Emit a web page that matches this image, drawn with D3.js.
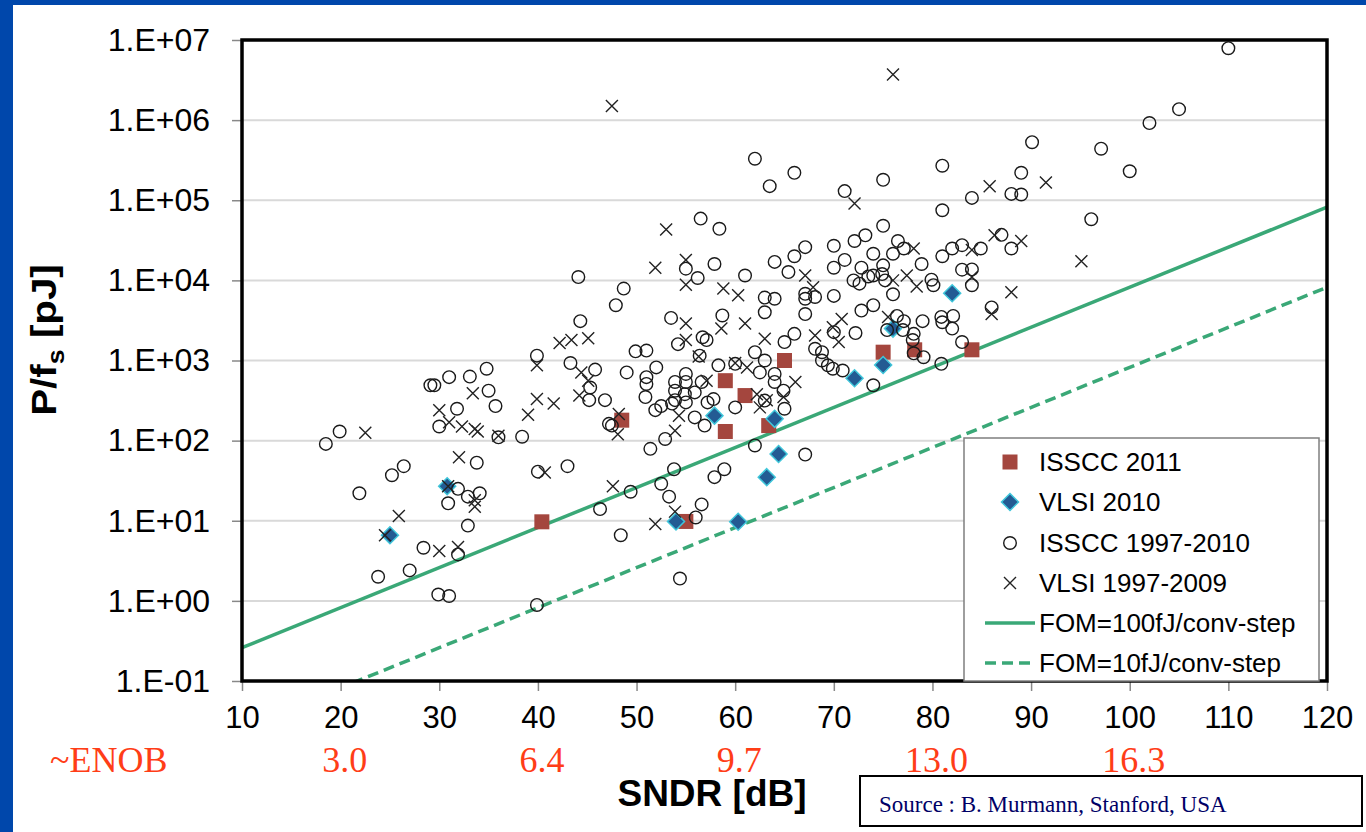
<!DOCTYPE html>
<html>
<head>
<meta charset="utf-8">
<script src="https://cdn.jsdelivr.net/npm/d3@7"></script>
<style>
  body { margin: 0; background: #fff; }
  text { font-family: "Liberation Sans", Arial, sans-serif; }
</style>
</head>
<body>
<svg id="chart"></svg>
<script>
// ---- data: [SNDR dB, P/fs pJ] ----
var isscc2011 = [[40.4,9.7],[48.5,180],[55.0,9.8],[59.0,560],[59.0,130],[61.0,365],[63.4,154],[65.0,1000],
  [75.0,1270],[78.2,1360],[84.0,1360]];

var vlsi2010 = [[25.0,6.6],[30.8,27],[54.0,9.8],[57.9,205],[60.3,9.7],[63.2,35],[64.4,68],[64.0,187],
  [72.1,600],[75.0,880],[76.0,2500],[82.0,6900]];

var isscc9710 = [
  [18.5,91],[19.9,130],[21.9,22],[25.2,37],[26.4,48],[23.8,2.0],[27.0,2.4],[28.4,4.6],[29.9,1.2],[31.0,1.15],
  [29.1,490],[29.5,490],[31.0,620],[33.1,630],[34.8,790],[35.0,420],[31.8,250],[30.0,150],[35.7,270],[36.0,110],
  [38.4,112],[33.8,53],[31.9,25],[32.9,20],[34.1,22],[30.9,16.5],[32.9,8.7],[31.9,3.8],[39.9,1150],[40.0,41],[39.9,0.89],
  [56.5,5.9e4],[58.4,4.4e4],[44.1,1.1e4],[48.7,7900],[47.9,4900],[44.3,3100],[57.9,1.6e4],[55.0,1.4e4],[56.2,1.07e4],
  [61.0,1.15e4],[64.0,1.7e4],[65.4,1.27e4],[66.0,2.0e4],[63.0,6100],[64.0,5900],[63.0,4000],[58.7,3650],[53.5,3400],
  [43.3,930],[45.8,770],[45.3,460],[45.2,320],[46.8,320],[49.0,710],[49.9,1300],[51.0,1330],[52.0,820],[51.0,620],[51.0,510],
  [50.9,350],[51.9,240],[52.5,270],[54.2,1600],[56.7,1950],[57.1,1800],[56.4,1150],[55.0,680],[55.0,540],[53.9,540],
  [53.9,420],[54.9,380],[55.9,400],[56.6,540],[53.9,320],[55.0,300],[53.6,290],[57.2,300],[57.8,330],[55.9,195],
  [56.9,154],[58.3,870],[60.0,910],[62.0,1270],[63.0,1000],[62.5,710],[64.0,680],[64.0,540],[64.9,420],[65.0,250],
  [63.0,316],[60.0,260],[65.0,1700],[66.0,2150],[47.5,154],[47.2,162],[52.9,105],[51.4,79],[43.0,48],[53.8,44],
  [57.9,35],[58.9,44],[62.0,87],[52.5,29],[49.4,23],[46.3,14],[53.3,20],[56.6,16],[56.0,11],[48.4,6.6],[54.4,1.9],
  [62.0,3.3e5],[63.5,1.5e5],[66.0,2.2e5],
  [81.0,2.7e5],[97.1,4.4e5],[75.0,1.8e5],[71.1,1.3e5],[84.0,1.07e5],[88.0,1.2e5],[89.0,1.18e5],[89.0,2.2e5],[81.0,7.5e4],[96.1,5.8e4],
  [75.0,4.8e4],[73.2,3.65e4],[72.1,3.1e4],[67.1,2.6e4],[70.0,2.7e4],[76.5,3.1e4],[77.1,2.5e4],[74.0,2.15e4],[76.0,2.15e4],[71.1,1.8e4],
  [70.0,1.44e4],[72.8,1.44e4],[78.9,1.6e4],[81.0,2.0e4],[82.0,2.5e4],[83.0,2.75e4],[84.9,2.5e4],[87.0,3.7e4],[88.0,2.5e4],[83.0,1.36e4],
  [84.0,1.37e4],[84.0,8700],[75.0,1.54e4],[72.0,1.0e4],[72.6,9100],[73.5,1.12e4],[74.0,1.15e4],[74.9,1.2e4],[75.2,1.0e4],[79.9,1.02e4],
  [80.1,8700],[67.1,6800],[67.1,5900],[68.1,6200],[67.1,3800],[70.0,6400],[76.0,6700],[74.0,4900],[72.8,4200],[72.2,2200],
  [70.0,2260],[76.4,3600],[77.1,3100],[75.4,2400],[77.0,2400],[78.1,2150],[79.0,3100],[78.0,1800],[80.9,3500],[81.0,3000],
  [82.1,3600],[82.0,2500],[86.0,4600],[83.0,1700],[68.1,1400],[68.8,1270],[68.8,1000],[69.4,870],[69.9,790],[70.9,750],
  [78.1,1230],[79.1,1100],[80.9,910],[74.0,490],[67.1,67],
  [110.0,7.9e6],[105.0,1.37e6],[102.0,9.2e5],[100.0,2.3e5],[90.1,5.3e5]
];

var vlsi9709 = [
  [22.5,125],[30.0,240],[31.0,170],[32.3,150],[33.4,390],[33.6,140],[33.9,130],[36.0,115],[39.0,210],[39.9,870],
  [39.9,330],[32.0,62],[30.9,27],[33.6,18],[33.6,15],[25.9,11.5],[24.5,6.6],[30.0,4.2],[31.9,4.7],
  [53.0,4.3e4],[51.9,1.44e4],[55.0,1.8e4],[55.0,8800],[58.8,7900],[60.3,6500],[55.0,2900],[58.6,2500],[61.0,2900],
  [42.2,1650],[43.4,1800],[45.1,1900],[44.4,710],[45.1,560],[44.2,365],[41.6,290],[55.0,1800],[56.3,1120],[57.1,560],
  [60.0,930],[61.2,820],[63.0,1870],[66.1,540],[62.2,380],[62.5,260],[63.2,320],[64.9,350],[48.2,215],[48.1,120],
  [53.9,133],[54.3,205],[40.7,40],[47.6,27],[53.9,13],[51.9,9.1],
  [72.1,9.1e4],[85.8,1.5e5],[91.5,1.66e5],[86.3,3.65e4],[89.0,3.1e4],[95.1,1.73e4],[78.1,2.5e4],[84.0,2.4e4],[84.0,1.1e4],
  [67.1,1.15e4],[67.9,8200],[76.0,1.0e4],[77.4,1.15e4],[78.4,8400],[88.0,7100],[86.0,3800],[75.5,3500],[70.8,3300],
  [69.9,2600],[68.1,2050],[70.5,1700],[47.5,1.5e6],[76.0,3.7e6]
];

// FOM reference lines (end points at SNDR 10 and 120)
var fomSndr = [10, 120];
var fom100 = [0.26, 8.2e4];
var fom10 = [0.026, 8.2e3];

var xTicks = [10,20,30,40,50,60,70,80,90,100,110,120];
var yTicks = [1e-1,1e0,1e1,1e2,1e3,1e4,1e5,1e6,1e7];
var yTickLabels = ["1.E-01","1.E+00","1.E+01","1.E+02","1.E+03","1.E+04","1.E+05","1.E+06","1.E+07"];
var enobTicks = [20,40,60,80,100];
var enobLabels = ["3.0","6.4","9.7","13.0","16.3"];

var legendNames = ["ISSCC 2011","VLSI 2010","ISSCC 1997-2010","VLSI 1997-2009","FOM=100fJ/conv-step","FOM=10fJ/conv-step"];

var green = "#3aa877";
var red = "#a4463e";
var navy = "#235b93";
var cyan = "#3fc6da";
var serif = "'Liberation Serif', 'Times New Roman', serif";

var svg = d3.select("#chart")
    .attr("width", 1366)
    .attr("height", 832);

svg.append("rect").attr("width", 1366).attr("height", 832).attr("fill", "#fff");
// slide frame
svg.append("rect").attr("x", 0).attr("y", 0).attr("width", 13).attr("height", 832).attr("fill", "#0047ab");
svg.append("rect").attr("x", 0).attr("y", 0).attr("width", 1366).attr("height", 5).attr("fill", "#0047ab");

var x = d3.scaleLinear().domain([10, 120]).range([242, 1327]);
var y = d3.scaleLog().domain([0.1, 1e7]).range([681, 40]);

svg.append("clipPath").attr("id", "plotClip")
    .append("rect")
    .attr("x", 242).attr("y", 40).attr("width", 1085).attr("height", 641);

// grid
svg.append("g").selectAll("line")
    .data(yTicks)
    .enter().append("line")
    .attr("x1", 242).attr("x2", 1327)
    .attr("y1", d => y(d)).attr("y2", d => y(d))
    .attr("stroke", "#d9d9d9")
    .attr("stroke-width", 2);

// axes
var yAxis = svg.append("g")
    .attr("transform", "translate(242,0)")
    .call(d3.axisLeft(y).tickValues(yTicks).tickFormat((d, i) => yTickLabels[i]).tickSize(10).tickPadding(22));
yAxis.select(".domain").remove();
yAxis.selectAll("line").attr("stroke", "#888").attr("stroke-width", 1.5);
yAxis.selectAll("text").attr("font-size", 32).attr("fill", "#000");

var xAxis = svg.append("g")
    .attr("transform", "translate(0,681)")
    .call(d3.axisBottom(x).tickValues(xTicks).tickFormat(d => d).tickSize(10).tickPadding(15));
xAxis.select(".domain").remove();
xAxis.selectAll("line").attr("stroke", "#888").attr("stroke-width", 1.5);
xAxis.selectAll("text").attr("font-size", 31).attr("fill", "#000");

var plot = svg.append("g").attr("clip-path", "url(#plotClip)");

// FOM lines
var line = d3.line().x(d => x(d[0])).y(d => y(d[1]));
plot.append("path")
    .datum(fomSndr.map((s, i) => [s, fom100[i]]))
    .attr("d", line)
    .attr("fill", "none")
    .attr("stroke", green)
    .attr("stroke-width", 3.5);
plot.append("path")
    .datum(fomSndr.map((s, i) => [s, fom10[i]]))
    .attr("d", line)
    .attr("fill", "none")
    .attr("stroke", green)
    .attr("stroke-width", 3.5)
    .attr("stroke-dasharray", "11,6");

// ISSCC 2011 squares
plot.append("g").selectAll("rect")
    .data(isscc2011)
    .enter().append("rect")
    .attr("x", d => x(d[0]) - 7.5)
    .attr("y", d => y(d[1]) - 7.5)
    .attr("width", 15).attr("height", 15)
    .attr("fill", red);

// VLSI 2010 diamonds
var diamond = "M0,-8.5L8.5,0L0,8.5L-8.5,0Z";
plot.append("g").selectAll("path")
    .data(vlsi2010)
    .enter().append("path")
    .attr("d", diamond)
    .attr("transform", d => "translate(" + x(d[0]) + "," + y(d[1]) + ")")
    .attr("fill", navy)
    .attr("stroke", cyan)
    .attr("stroke-width", 1.5);

// ISSCC 1997-2010 circles
plot.append("g").selectAll("circle")
    .data(isscc9710)
    .enter().append("circle")
    .attr("cx", d => x(d[0]))
    .attr("cy", d => y(d[1]))
    .attr("r", 6.3)
    .attr("fill", "none")
    .attr("stroke", "#1a1a1a")
    .attr("stroke-width", 1.4);

// VLSI 1997-2009 crosses
var cross = "M-6,-6L6,6M-6,6L6,-6";
plot.append("g").selectAll("path")
    .data(vlsi9709)
    .enter().append("path")
    .attr("d", cross)
    .attr("transform", d => "translate(" + x(d[0]) + "," + y(d[1]) + ")")
    .attr("fill", "none")
    .attr("stroke", "#222")
    .attr("stroke-width", 1.4);

// plot border
svg.append("rect")
    .attr("x", 242).attr("y", 40).attr("width", 1085).attr("height", 641)
    .attr("fill", "none")
    .attr("stroke", "#000")
    .attr("stroke-width", 3.5);

// legend
var lg = svg.append("g");
lg.append("rect")
    .attr("x", 964).attr("y", 438).attr("width", 355).attr("height", 243)
    .attr("fill", "#fff")
    .attr("stroke", "#7f7f7f")
    .attr("stroke-width", 1.5);
var rowY = [462, 502, 543, 583, 623, 663];
lg.append("rect").attr("x", 1002.5).attr("y", rowY[0] - 7.5).attr("width", 15).attr("height", 15).attr("fill", red);
lg.append("path").attr("d", diamond).attr("transform", "translate(1010," + rowY[1] + ")")
    .attr("fill", navy).attr("stroke", cyan).attr("stroke-width", 1.5);
lg.append("circle").attr("cx", 1010).attr("cy", rowY[2]).attr("r", 6.3)
    .attr("fill", "none").attr("stroke", "#1a1a1a").attr("stroke-width", 1.4);
lg.append("path").attr("d", cross).attr("transform", "translate(1010," + rowY[3] + ")")
    .attr("fill", "none").attr("stroke", "#222").attr("stroke-width", 1.4);
lg.append("line").attr("x1", 985).attr("x2", 1035).attr("y1", rowY[4]).attr("y2", rowY[4])
    .attr("stroke", green).attr("stroke-width", 3.5);
lg.append("line").attr("x1", 985).attr("x2", 1035).attr("y1", rowY[5]).attr("y2", rowY[5])
    .attr("stroke", green).attr("stroke-width", 3.5).attr("stroke-dasharray", "11,6");
lg.selectAll("text.lab")
    .data(legendNames)
    .enter().append("text")
    .attr("class", "lab")
    .attr("x", 1039)
    .attr("y", (d, i) => rowY[i])
    .attr("dy", "0.36em")
    .attr("font-size", 26)
    .attr("fill", "#000")
    .text(d => d);

// axis titles
var yt = svg.append("text")
    .attr("transform", "translate(56,340) rotate(-90) scale(1.12,1)")
    .attr("text-anchor", "middle")
    .attr("font-size", 36)
    .attr("font-weight", "bold")
    .attr("fill", "#000");
yt.append("tspan").text("P/f");
yt.append("tspan").attr("font-size", 24).attr("dy", 8).text("s");
yt.append("tspan").attr("dy", -8).text(" [pJ]");

svg.append("text")
    .attr("x", 712).attr("y", 806)
    .attr("text-anchor", "middle")
    .attr("font-size", 37)
    .attr("font-weight", "bold")
    .attr("fill", "#000")
    .text("SNDR [dB]");

// ENOB row
svg.append("text")
    .attr("x", 50).attr("y", 772)
    .style("font-family", serif)
    .attr("font-size", 36)
    .attr("fill", "#ff3d17")
    .text("~ENOB");
svg.append("g").selectAll("text")
    .data(enobTicks)
    .enter().append("text")
    .attr("x", d => x(d) + 4)
    .attr("y", 772)
    .attr("text-anchor", "middle")
    .style("font-family", serif)
    .attr("font-size", 36)
    .attr("fill", "#ff3d17")
    .text((d, i) => enobLabels[i]);

// source box
svg.append("rect")
    .attr("x", 860).attr("y", 776).attr("width", 502).attr("height", 50)
    .attr("fill", "#fff").attr("stroke", "#000").attr("stroke-width", 2);
svg.append("text")
    .attr("x", 879).attr("y", 812)
    .style("font-family", serif)
    .attr("font-size", 23)
    .attr("fill", "#000066")
    .text("Source : B. Murmann, Stanford, USA");
</script>
</body>
</html>
